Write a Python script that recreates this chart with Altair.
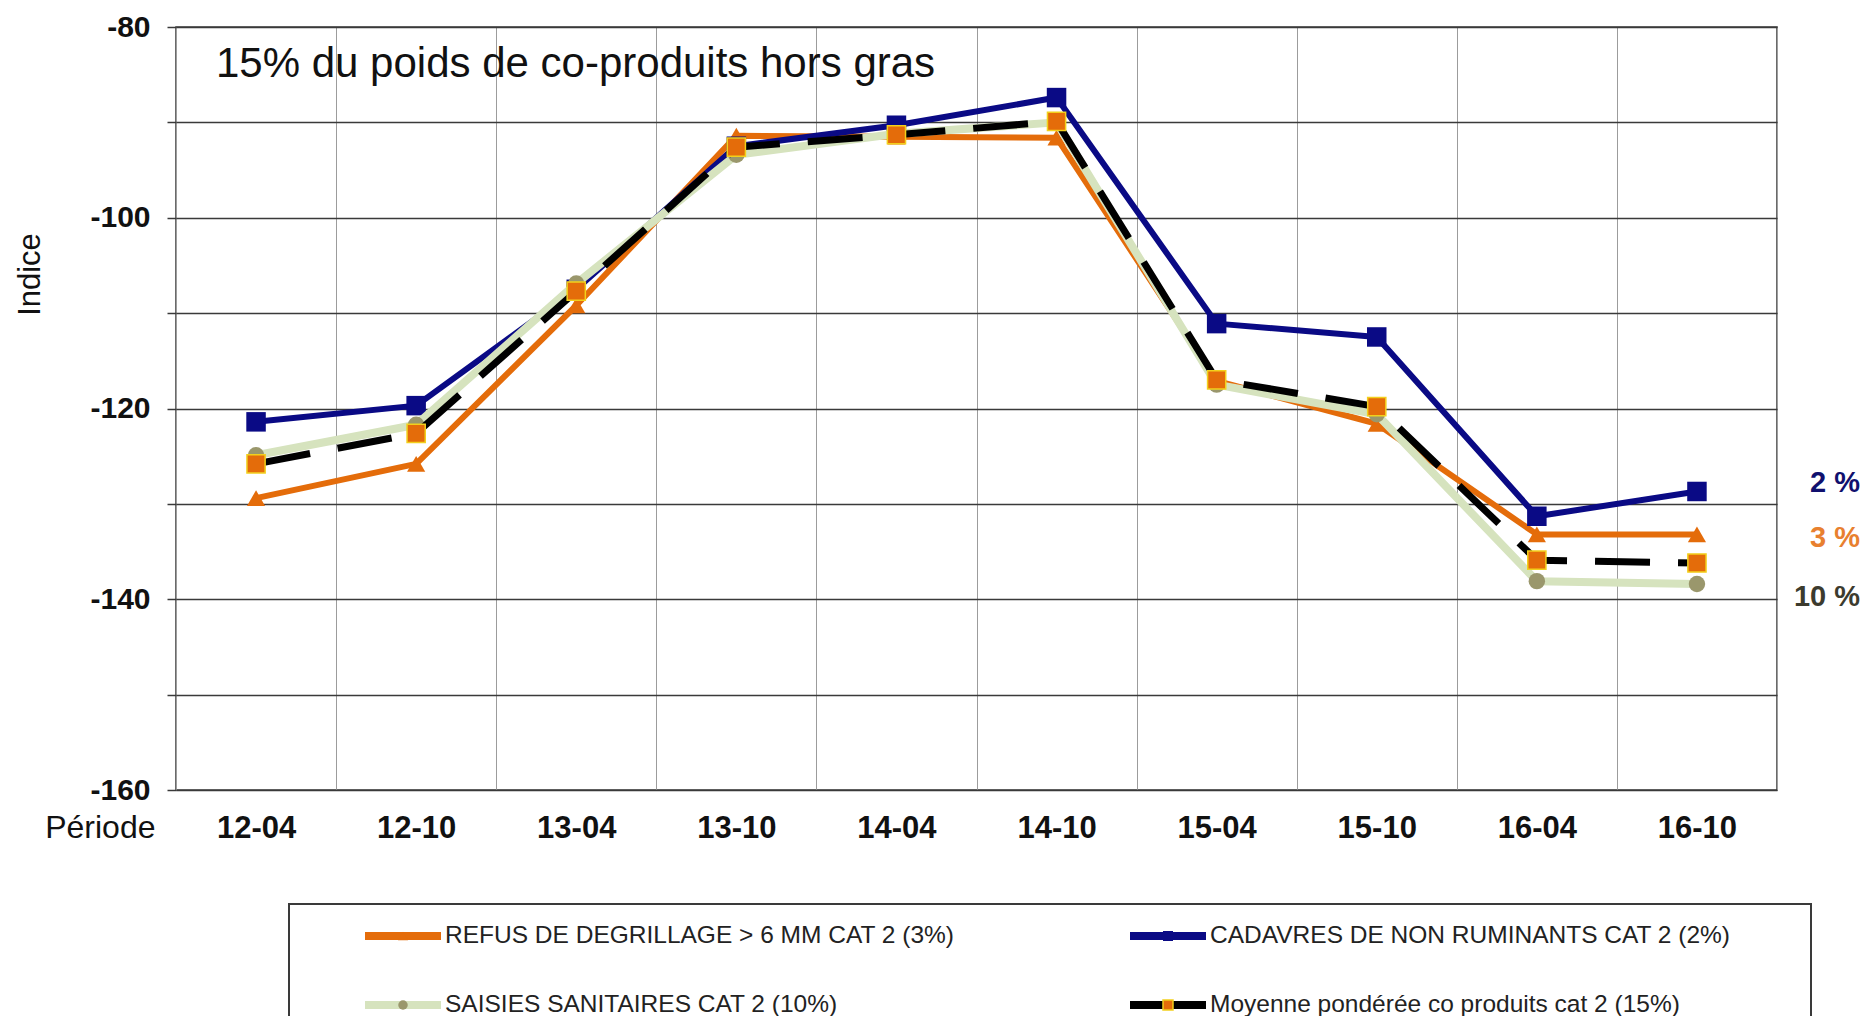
import altair as alt
import pandas as pd

# ---------------- data ----------------
periods = ["12-04", "12-10", "13-04", "13-10", "14-04", "14-10", "15-04", "15-10", "16-04", "16-10"]
refus = [-129.4, -125.8, -109.2, -91.4, -91.5, -91.6, -117.1, -121.6, -133.2, -133.2]
cadavres = [-121.4, -119.7, -107.5, -92.5, -90.3, -87.4, -111.1, -112.5, -131.3, -128.7]
saisies = [-124.9, -121.7, -106.9, -93.4, -91.2, -90.0, -117.5, -120.6, -138.1, -138.4]
moyenne = [-125.8, -122.6, -107.7, -92.6, -91.3, -89.9, -117.0, -119.8, -135.9, -136.2]

series_names = [
    "REFUS DE DEGRILLAGE > 6 MM CAT 2 (3%)",
    "CADAVRES DE NON RUMINANTS CAT 2 (2%)",
    "SAISIES SANITAIRES CAT 2 (10%)",
    "Moyenne pondérée  co produits  cat 2 (15%)",
]
series_values = [refus, cadavres, saisies, moyenne]

chart_title = "15% du poids de co-produits hors gras"
y_title = "Indice"
x_title = "Période"
y_ticks = [-160, -150, -140, -130, -120, -110, -100, -90, -80]

share_labels = ["2 %", "3 %", "10 %"]
share_anchor = [-127.8, -133.6, -139.8]

# ---------------- layout / style ----------------
FONT = "Liberation Sans, Arial, Helvetica, sans-serif"
W, H = 1601, 763
PAD = {"left": 168, "top": 19, "right": 85, "bottom": 226}

styles = [
    dict(line="#E46C0A", width=6, shape="triangle-up", fill="#E46C0A", size=330, lsize=100),
    dict(line="#0A0A85", width=6, shape="square", fill="#0A0A85", size=380, lsize=100),
    dict(line="#D6E3BE", width=8, shape="circle", fill="#9A976C", size=270, lsize=90),
    dict(line="#000000", width=7, dash=[55, 28], shape="square", fill="#E46C0A",
         stroke="#F2D01C", size=330, lsize=100),
]
share_colors = ["#10106E", "#E8802F", "#3C3B2E"]

LEG_X = [189, 954]
LEG_Y = [909, 978]
LEG_LINE = 76

# ---------------- encodings ----------------
x_axis = alt.Axis(
    title=x_title, tickBand="extent", grid=True, gridColor="#9C9C9C", gridWidth=1,
    ticks=False, tickSize=0, domain=False, labelAngle=0,
    labelFont=FONT, labelFontSize=31, labelFontWeight="bold", labelColor="#111111",
    labelBaseline="alphabetic", labelPadding=47,
    titleFont=FONT, titleFontSize=32, titleFontWeight="normal", titleColor="#111111",
    titleX=-21, titleY=47, titleAlign="right", titleBaseline="alphabetic", titleAngle=0,
)
y_axis = alt.Axis(
    title=y_title, values=y_ticks,
    labelExpr="datum.value % 20 == 0 ? '' + datum.value : ''",
    grid=True, gridColor="#3A3A3A", gridWidth=1.5,
    ticks=True, tickSize=9, tickColor="#3A3A3A", tickWidth=1.5, domain=False,
    labelFont=FONT, labelFontSize=30, labelFontWeight="bold", labelColor="#111111",
    labelPadding=17,
    titleFont=FONT, titleFontSize=31, titleFontWeight="normal", titleColor="#111111",
    titleX=-146, titleY=247, titleAngle=270, titleBaseline="middle", titleAlign="center",
)
x_scale = alt.Scale(type="band", domain=periods, paddingInner=0, paddingOuter=0)
y_scale = alt.Scale(domain=[-160, -80], nice=False, zero=False)


def xenc():
    return alt.X("period:N", sort=periods, scale=x_scale, bandPosition=0.5, axis=x_axis)


def yenc():
    return alt.Y("value:Q", scale=y_scale, axis=y_axis)


layers = []
for name, vals, st in zip(series_names, series_values, styles):
    df = pd.DataFrame({"period": periods, "value": vals, "series": name})
    line_kw = dict(color=st["line"], strokeWidth=st["width"], strokeJoin="round")
    if "dash" in st:
        line_kw["strokeDash"] = st["dash"]
    layers.append(alt.Chart(df).mark_line(**line_kw).encode(x=xenc(), y=yenc()))
    pt_kw = dict(shape=st["shape"], filled=True, fill=st["fill"], size=st["size"], opacity=1)
    if "stroke" in st:
        pt_kw.update(stroke=st["stroke"], strokeWidth=1.5)
    layers.append(alt.Chart(df).mark_point(**pt_kw).encode(x=xenc(), y=yenc()))

# title inside the plot
title_df = pd.DataFrame({"t": [chart_title]})
layers.append(
    alt.Chart(title_df).mark_text(align="left", baseline="alphabetic", font=FONT,
                                  fontSize=42, color="#111111")
    .encode(x=alt.value(40), y=alt.value(50), text="t:N")
)

# share annotations on the right (same y scale and axis as the series)
for lab, pos, col in zip(share_labels, share_anchor, share_colors):
    adf = pd.DataFrame({"lab": [lab], "value": [pos]})
    layers.append(
        alt.Chart(adf).mark_text(align="right", baseline="middle", font=FONT, fontSize=29,
                                 fontWeight="bold", color=col)
        .encode(x=alt.value(W + 83), y=yenc(), text="lab:N")
    )

# legend box
box_df = pd.DataFrame({"k": [0]})
layers.append(
    alt.Chart(box_df).mark_rect(fill="white", stroke="#3A3A3A", strokeWidth=2)
    .encode(x=alt.value(113), x2=alt.value(1635), y=alt.value(877), y2=alt.value(1030))
)

# legend entries
leg_rows = []
for i, name in enumerate(series_names):
    c, r = i % 2, i // 2
    x0 = LEG_X[c]
    leg_rows.append(dict(name=name, x0=x0, x1=x0 + LEG_LINE, xm=x0 + LEG_LINE / 2,
                         xt=x0 + LEG_LINE + 4, y=LEG_Y[r]))
leg_df = pd.DataFrame(leg_rows)

for name, st in zip(series_names, styles):
    sub = leg_df[leg_df["name"] == name]
    layers.append(
        alt.Chart(sub).mark_rule(color=st["line"], strokeWidth=8)
        .encode(x=alt.X("x0:Q", scale=None, axis=None), x2="x1:Q",
                y=alt.Y("y:Q", scale=None, axis=None))
    )
    pt_kw = dict(shape=st["shape"], filled=True, fill=st["fill"], size=st["lsize"], opacity=1)
    if "stroke" in st:
        pt_kw.update(stroke=st["stroke"], strokeWidth=1.5)
    layers.append(
        alt.Chart(sub).mark_point(**pt_kw)
        .encode(x=alt.X("xm:Q", scale=None, axis=None), y=alt.Y("y:Q", scale=None, axis=None))
    )
    layers.append(
        alt.Chart(sub).mark_text(align="left", baseline="middle", font=FONT, fontSize=24.5,
                                 color="#222222")
        .encode(x=alt.X("xt:Q", scale=None, axis=None), y=alt.Y("y:Q", scale=None, axis=None),
                text="name:N")
    )

chart = (
    alt.layer(*layers)
    .properties(width=W, height=H, autosize=alt.AutoSizeParams(type="none"), padding=PAD,
                background="white")
    .configure_view(stroke="#3A3A3A", strokeWidth=1.5)
)

chart.save("out.html", embed_options={"renderer": "svg", "actions": False})
